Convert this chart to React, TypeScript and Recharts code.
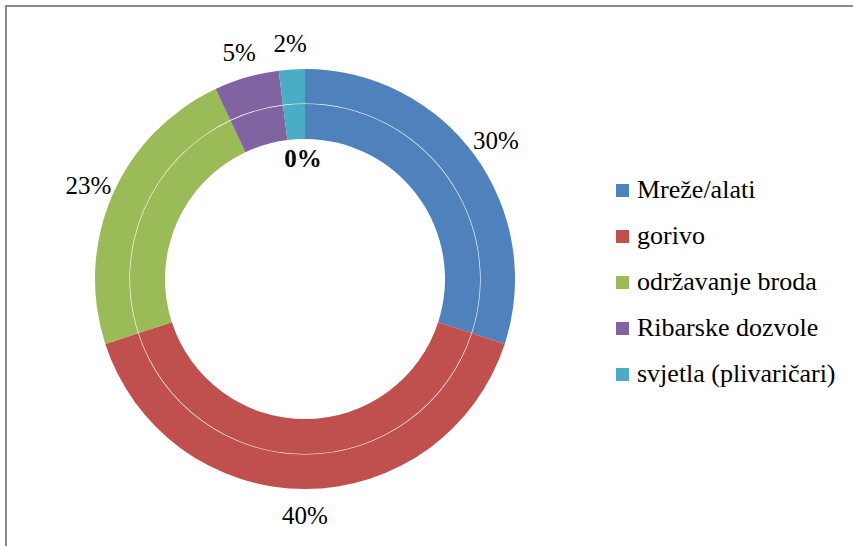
import { PieChart, Pie, Cell, Legend } from "recharts";

const categories = [
  "Mreže/alati",
  "gorivo",
  "održavanje broda",
  "Ribarske dozvole",
  "svjetla (plivaričari)",
];
const outerValues = [30, 40, 23, 5, 2];
const innerValues = [30, 40, 23, 5, 2];
const innerLabels = ["0%", "0%", "0%", "0%", "0%"];

const colors = ["#4F81BD", "#C0504D", "#9BBB59", "#8064A2", "#4BACC6"];

const outerData = categories.map((name, i) => ({ name, value: outerValues[i] }));
const innerData = categories.map((name, i) => ({
  name,
  value: innerValues[i],
  label: innerLabels[i],
}));

const RADIAN = Math.PI / 180;
const FONT = "Liberation Serif, DejaVu Serif, Noto Serif, Times New Roman, serif";

const outerLabel = (props: any) => {
  const { cx, cy, midAngle, percent } = props;
  const r = 236;
  const x = cx + r * Math.cos(-midAngle * RADIAN);
  const y = cy + r * Math.sin(-midAngle * RADIAN);
  return (
    <text
      x={x}
      y={y + 9}
      textAnchor="middle"
      fill="#000"
      style={{ fontSize: 25, fontFamily: FONT }}
    >
      {`${Math.round(percent * 100)}%`}
    </text>
  );
};

const innerLabel = (props: any) => {
  const { cx, cy, innerRadius, index, payload } = props;
  if (index !== 0) return null;
  return (
    <text
      x={cx - 2}
      y={cy - innerRadius + 28}
      textAnchor="middle"
      fill="#000"
      style={{ fontSize: 25, fontWeight: "bold", fontFamily: FONT }}
    >
      {payload.label}
    </text>
  );
};

// legend drawn from the category list so the order stays as in the data
const renderLegend = () => (
  <div>
    {categories.map((name, i) => (
      <div
        key={`item-${i}`}
        style={{ display: "flex", alignItems: "center", height: 46 }}
      >
        <span
          style={{
            width: 13,
            height: 13,
            background: colors[i],
            display: "inline-block",
          }}
        />
        <span
          style={{
            marginLeft: 8,
            fontSize: 26,
            fontFamily: FONT,
            color: "#000",
            whiteSpace: "nowrap",
          }}
        >
          {name}
        </span>
      </div>
    ))}
  </div>
);

export default function App() {
  return (
    <div
      style={{
        position: "absolute",
        left: 0,
        top: 0,
        width: 853,
        height: 546,
        overflow: "hidden",
        background: "#fff",
      }}
    >
      <div
        style={{
          position: "absolute",
          left: 5,
          top: 5,
          width: 900,
          height: 600,
          border: "2px solid #8a8a8a",
        }}
      />
      <div style={{ position: "absolute", left: 0, top: 0 }}>
        <PieChart
          width={853}
          height={546}
          margin={{ top: 0, right: 0, bottom: 0, left: 0 }}
        >
          <Pie
            data={innerData}
            dataKey="value"
            nameKey="name"
            cx={305}
            cy={279}
            innerRadius={140}
            outerRadius={175}
            startAngle={90}
            endAngle={-270}
            stroke="none"
            label={innerLabel}
            labelLine={false}
            legendType="none"
            isAnimationActive={false}
          >
            {innerData.map((_, i) => (
              <Cell key={`in-${i}`} fill={colors[i]} />
            ))}
          </Pie>
          <Pie
            data={outerData}
            dataKey="value"
            nameKey="name"
            cx={305}
            cy={279}
            innerRadius={175.6}
            outerRadius={210}
            startAngle={90}
            endAngle={-270}
            stroke="none"
            label={outerLabel}
            labelLine={false}
            isAnimationActive={false}
          >
            {outerData.map((_, i) => (
              <Cell key={`out-${i}`} fill={colors[i]} />
            ))}
          </Pie>
          <Legend
            content={renderLegend}
            wrapperStyle={{
              position: "absolute",
              left: 616,
              top: 167,
              width: 237,
            }}
          />
        </PieChart>
      </div>
    </div>
  );
}
